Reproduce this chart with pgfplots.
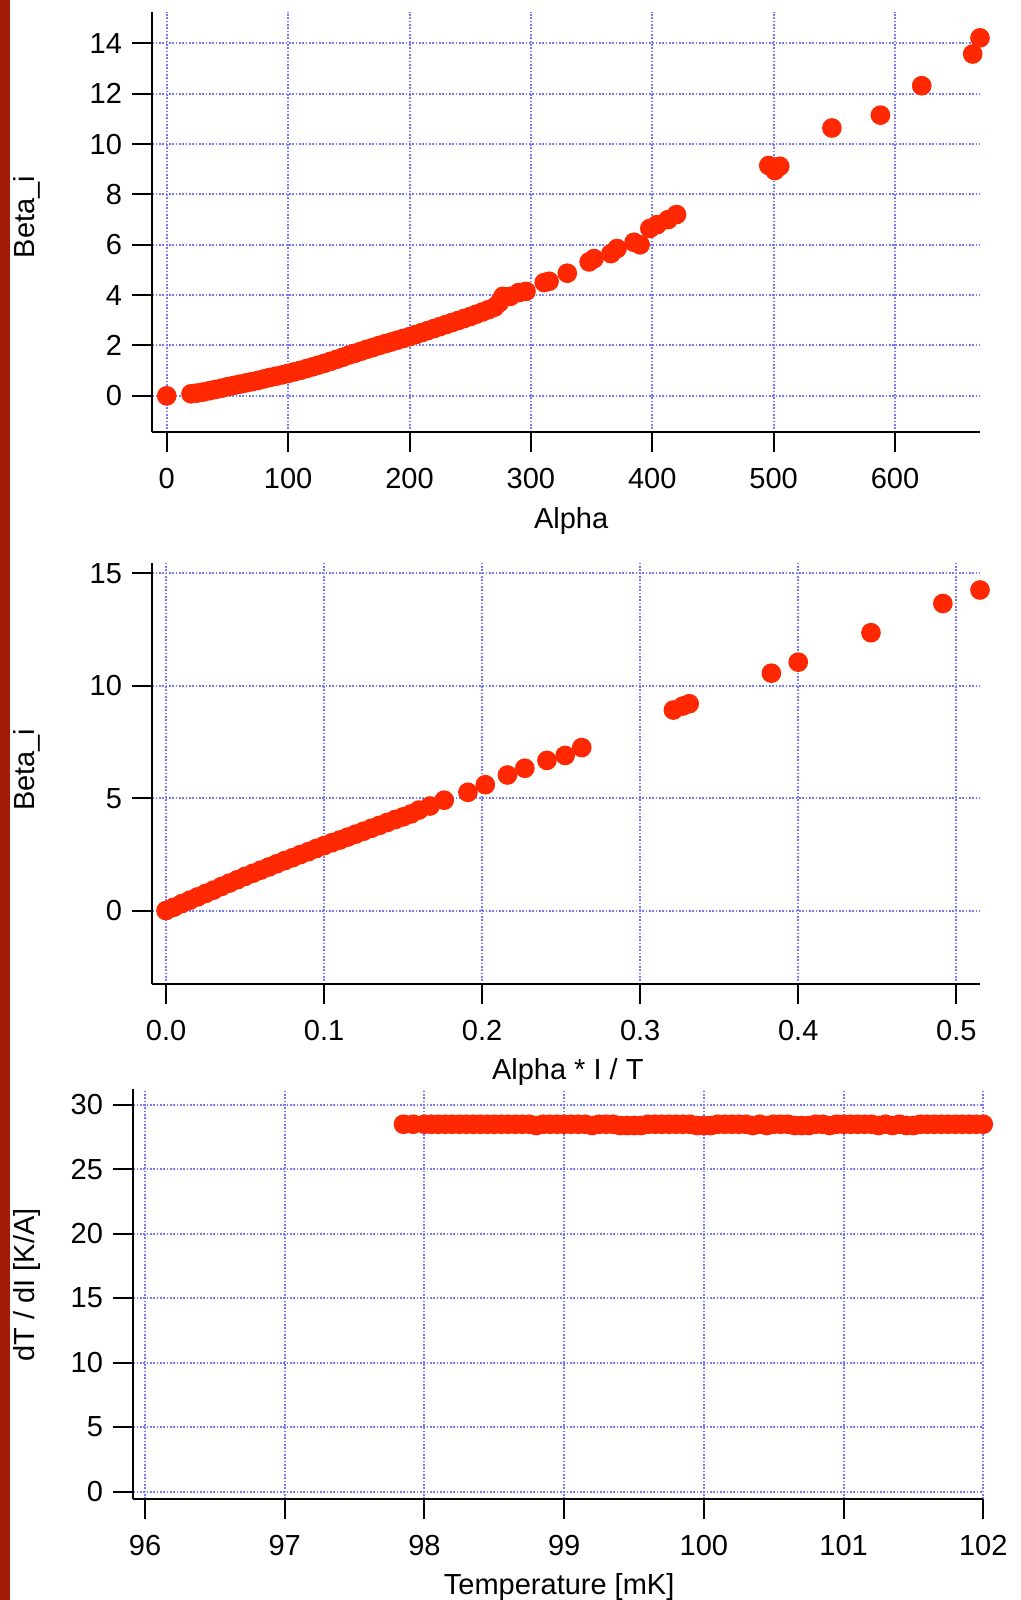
\documentclass[border=0pt]{standalone}
\usepackage{fontspec}
\setmainfont{Liberation Sans}
\usepackage{pgfplots}
\pgfplotsset{compat=1.18}
\definecolor{ptred}{RGB}{255,40,0}
\definecolor{gridblue}{RGB}{120,120,255}
\definecolor{stripe}{RGB}{160,28,8}
\newcommand\tf{\fontsize{8.7}{10}\selectfont}
\pgfplotsset{
  igor/.style={
    scale only axis,
    clip=false,
    axis lines*=left,
    axis line style={-, line width=0.6pt, black},
    tick align=outside,
    tick pos=left,
    major tick length=6pt,
    tick style={line width=0.6pt, black},
    grid=major,
    major grid style={line width=0.6pt, color=gridblue, dash pattern=on 0.5pt off 0.5pt},
    /pgf/number format/assume math mode=true,
    scaled ticks=false,
    tick label style={font=\tf},
    label style={font=\tf},
    xticklabel style={inner sep=0pt, yshift=-4.6pt},
    yticklabel style={inner sep=0pt, xshift=-2.9pt},
  },
  pts/.style={only marks, mark=*, mark size=2.75pt, color=ptred, mark options={draw=none, fill=ptred}},
}
\begin{document}
\begin{tikzpicture}
\useasboundingbox (0,0) rectangle (306pt,-480pt);
\fill[stripe] (0,0) rectangle (3pt,-480pt);

% ---------------- top ----------------
\begin{axis}[igor,
  at={(45.69pt,-129.69pt)}, anchor=south west,
  width=248.31pt, height=126.18pt,
  xmin=-11.9, xmax=670, ymin=-1.45, ymax=15.26,
  xtick={0,100,200,300,400,500,600},
  ytick={0,2,4,6,8,10,12,14},
  xlabel={Alpha}, ylabel={Beta\_i},
  xlabel style={at={(axis description cs:0.506,-0.212)}, anchor=center},
  ylabel style={at={(axis description cs:-0.152,0.512)}, anchor=center},
]
\addplot[pts] coordinates {
(0,0)
(20,0.08)(25,0.11)(30,0.15)(35,0.2)(40,0.25)(45,0.3)(50,0.36)(55,0.41)(60,0.46)(65,0.51)
(70,0.56)(75,0.61)(80,0.67)(85,0.73)(90,0.78)(95,0.83)(100,0.89)(105,0.95)(110,1.01)(115,1.08)
(120,1.15)(125,1.22)(130,1.29)(135,1.37)(140,1.45)(145,1.53)(150,1.62)(155,1.69)(160,1.77)(165,1.85)
(170,1.92)(175,2.0)(180,2.07)(185,2.14)(190,2.21)(195,2.28)(200,2.35)(205,2.43)(210,2.51)(215,2.59)
(220,2.67)(225,2.75)(230,2.83)(235,2.91)(240,2.99)(245,3.07)(250,3.15)(255,3.24)(260,3.33)(265,3.42)
(270,3.52)(274,3.7)(277,3.95)(283,3.95)(290,4.1)(296,4.15)(311,4.5)(315,4.55)(330,4.87)
(348,5.32)(352,5.45)(366,5.65)(371,5.85)(385,6.1)(390,6.0)(398,6.65)(404,6.8)(413,7.0)(420,7.2)
(496,9.15)(501,8.95)(505,9.12)(548,10.64)(588,11.15)(622,12.32)(664,13.58)(670,14.22)
};
\end{axis}

% ---------------- middle ----------------
\begin{axis}[igor,
  at={(45.69pt,-295.29pt)}, anchor=south west,
  width=248.31pt, height=126.39pt,
  xmin=-0.0087, xmax=0.515, ymin=-3.28, ymax=15.46,
  xtick={0,0.1,0.2,0.3,0.4,0.5},
  xticklabels={0.0,0.1,0.2,0.3,0.4,0.5},
  ytick={0,5,10,15},
  xlabel={Alpha * I / T}, ylabel={Beta\_i},
  xlabel style={at={(axis description cs:0.502,-0.207)}, anchor=center},
  ylabel style={at={(axis description cs:-0.152,0.509)}, anchor=center},
]
\addplot[pts] coordinates {
(0,0)(0.005,0.15)(0.01,0.31)(0.015,0.46)(0.02,0.61)(0.025,0.76)(0.03,0.91)(0.035,1.07)(0.04,1.22)
(0.045,1.37)(0.05,1.52)(0.055,1.66)(0.06,1.8)(0.065,1.94)(0.07,2.08)(0.075,2.22)(0.08,2.35)
(0.085,2.49)(0.09,2.62)(0.095,2.76)(0.1,2.89)(0.105,3.02)(0.11,3.14)(0.115,3.27)(0.12,3.4)
(0.125,3.53)(0.13,3.66)(0.135,3.79)(0.14,3.92)(0.145,4.05)
(0.150,4.17)(0.155,4.3)(0.160,4.47)(0.167,4.65)(0.176,4.91)(0.191,5.26)(0.202,5.6)(0.216,6.03)
(0.227,6.33)(0.241,6.68)(0.2525,6.9)(0.263,7.25)
(0.321,8.92)(0.327,9.1)(0.331,9.2)(0.383,10.56)(0.400,11.05)(0.446,12.36)(0.4915,13.66)(0.515,14.26)
};
\end{axis}

% ---------------- bottom ----------------
\begin{axis}[igor,
  at={(39.99pt,-449.7pt)}, anchor=south west,
  width=255pt, height=123pt,
  xmin=95.916, xmax=102, ymin=-0.57, ymax=31.2,
  xtick={96,97,98,99,100,101,102},
  ytick={0,5,10,15,20,25,30},
  xlabel={Temperature [mK]}, ylabel={dT / dI [K/A]},
  xlabel style={at={(axis description cs:0.501,-0.215)}, anchor=center},
  ylabel style={at={(axis description cs:-0.1256,0.522)}, anchor=center},
]
\addplot[pts] coordinates {
(97.85,28.47)(97.92,28.47)
(98.00,28.47)(98.05,28.47)(98.10,28.47)(98.15,28.47)(98.20,28.47)(98.25,28.47)(98.30,28.47)(98.35,28.47)
(98.40,28.47)(98.45,28.47)(98.50,28.47)(98.55,28.47)(98.60,28.47)(98.65,28.47)(98.70,28.47)(98.75,28.47)
(98.80,28.37)(98.85,28.47)(98.90,28.47)(98.95,28.47)(99.00,28.47)(99.05,28.47)(99.10,28.47)(99.15,28.47)
(99.20,28.37)(99.25,28.47)(99.30,28.47)(99.35,28.47)(99.40,28.37)(99.45,28.37)(99.50,28.37)(99.55,28.37)
(99.60,28.47)(99.65,28.47)(99.70,28.47)(99.75,28.47)(99.80,28.47)(99.85,28.47)(99.90,28.47)(99.95,28.37)
(100.00,28.37)(100.05,28.37)(100.10,28.47)(100.15,28.47)(100.20,28.47)(100.25,28.47)(100.30,28.47)(100.35,28.37)
(100.40,28.47)(100.45,28.37)(100.50,28.47)(100.55,28.47)(100.60,28.47)(100.65,28.37)(100.70,28.37)(100.75,28.37)
(100.80,28.47)(100.85,28.47)(100.90,28.37)(100.95,28.47)(101.00,28.47)(101.05,28.47)(101.10,28.47)(101.15,28.47)
(101.20,28.47)(101.25,28.37)(101.30,28.47)(101.35,28.37)(101.40,28.47)(101.45,28.37)(101.50,28.37)(101.55,28.47)
(101.60,28.47)(101.65,28.47)(101.70,28.47)(101.75,28.47)(101.80,28.47)(101.85,28.47)(101.90,28.47)(101.95,28.47)
(102.00,28.47)
};
\end{axis}
\end{tikzpicture}
\end{document}
